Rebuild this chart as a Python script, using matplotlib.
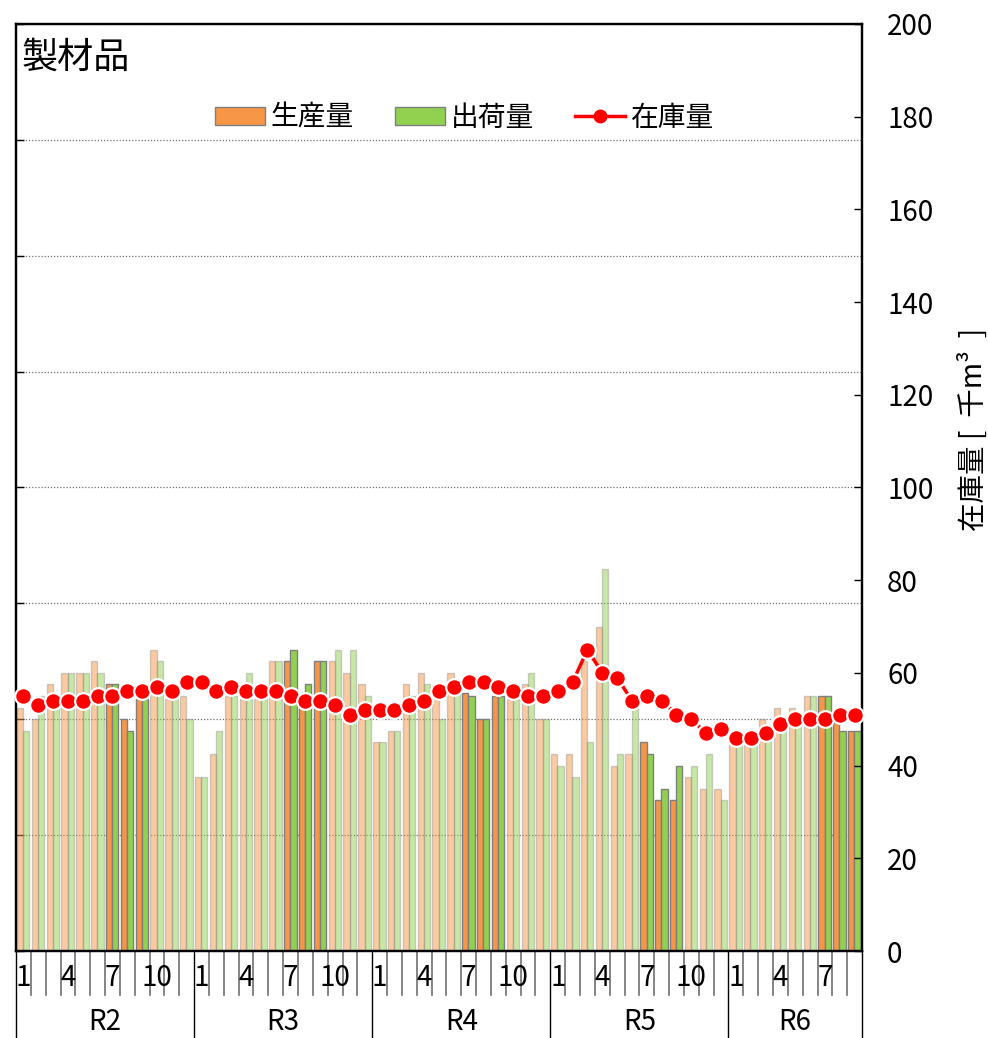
import matplotlib
matplotlib.use('Agg')
import matplotlib.pyplot as plt
import numpy as np
from matplotlib.patches import Patch
from matplotlib.lines import Line2D
from matplotlib.colors import to_rgba
import matplotlib.transforms as mtransforms

plt.rcParams['font.family'] = ['Noto Sans CJK JP', 'DejaVu Sans']

# ---------------- data ----------------
title = '製材品'
years = ['R2', 'R3', 'R4', 'R5', 'R6']
months_per_year = [12, 12, 12, 12, 9]
shown_month_labels = [1, 4, 7, 10]
highlight_months = [7, 8, 9]

production = [
    42, 40, 46, 48, 48, 50, 46, 40, 43.5, 52, 43.5, 44,      # R2
    30, 34, 44, 43.5, 43.5, 50, 50, 42, 50, 50, 48, 46,      # R3
    36, 38, 46, 48, 43.5, 48, 44.5, 40, 44, 43.5, 46, 40,    # R4
    34, 34, 50, 56, 32, 34, 36, 26, 26, 30, 28, 28,          # R5
    35.6, 35.6, 40, 42, 42, 44, 44, 39.3, 38,                # R6
]
shipment = [
    38, 44, 42, 48, 48, 48, 46, 38, 43.5, 50, 43.5, 40,      # R2
    30, 38, 44, 48, 43.5, 50, 52, 46, 50, 52, 52, 44,        # R3
    36, 38, 44, 46, 40, 45.6, 44, 40, 44, 43.5, 48, 40,      # R4
    32, 30, 36, 66, 34, 42, 34, 28, 32, 32, 34, 26,          # R5
    35.6, 35.6, 37, 38.8, 40, 44, 44, 38, 38,                # R6
]
stock = [
    55, 53, 54, 54, 54, 55, 55, 56, 56, 57, 56, 58,          # R2
    58, 56, 57, 56, 56, 56, 55, 54, 54, 53, 51, 52,          # R3
    52, 52, 53, 54, 56, 57, 58, 58, 57, 56, 55, 55,          # R4
    56, 58, 65, 60, 59, 54, 55, 54, 51, 50, 47, 48,          # R5
    46, 46, 47, 49, 50, 50, 50, 51, 51,                      # R6
]
series_labels = ['生産量', '出荷量', '在庫量']
y_label = '在庫量 [  千m³  ]'

# ---------------- derived ----------------
month_num = [m for n in months_per_year for m in range(1, n + 1)]
n = len(month_num)
x = np.arange(n)

c_prod = '#F79646'
c_ship = '#92D050'
c_edge = '#7F7F7F'
fade = 0.5

def colors(base):
    fc = [to_rgba(base, 1.0 if m in highlight_months else fade) for m in month_num]
    ec = [to_rgba(c_edge, 1.0 if m in highlight_months else 0.35) for m in month_num]
    return fc, ec

fig = plt.figure(figsize=(9.88, 10.38), dpi=100)
ax = fig.add_axes([0.0162, 0.0838, 0.8563, 0.8931])

w = 0.42
fc, ec = colors(c_prod)
ax.bar(x - w / 2 - 0.02, production, width=w, color=fc, edgecolor=ec, linewidth=1.0, zorder=2)
fc, ec = colors(c_ship)
ax.bar(x + w / 2 - 0.02, shipment, width=w, color=fc, edgecolor=ec, linewidth=1.0, zorder=2)

ax.set_xlim(-0.5, n - 0.5)
ax.set_ylim(0, 160)
ax.set_yticks(np.arange(0, 161, 20))
ax.tick_params(axis='y', direction='in', length=6, width=1, labelleft=False, left=True)
ax.set_xticks([])
ax.grid(axis='y', linestyle=(0, (1, 1.5)), color='#707070', linewidth=0.9)
ax.set_axisbelow(True)
for s in ax.spines.values():
    s.set_color('black')
    s.set_linewidth(1.6)

ax2 = ax.twinx()
ax2.set_ylim(0, 200)
ax2.set_yticks(np.arange(0, 201, 20))
ax2.tick_params(axis='y', direction='in', length=6, width=1, labelsize=20, pad=18)
ax2.plot(x, stock, color='#FF0000', linewidth=2.5, marker='o', markersize=12,
         markerfacecolor='#FF0000', markeredgecolor='white', markeredgewidth=1.6,
         zorder=5, clip_on=False)
for s in ax2.spines.values():
    s.set_color('black')
    s.set_linewidth(1.6)
ax2.set_ylabel(y_label, fontsize=20.5, rotation=90, ha='center', va='center')
ax2.yaxis.set_label_coords(1.132, 0.563)

# legend
handles = [
    Patch(facecolor=c_prod, edgecolor=c_edge),
    Patch(facecolor=c_ship, edgecolor=c_edge),
    Line2D([], [], color='#FF0000', linewidth=2.5, marker='o', markersize=9,
           markerfacecolor='#FF0000', markeredgecolor='#FF0000'),
]
ax2.legend(handles, series_labels, loc='center', bbox_to_anchor=(0.53, 0.899), ncol=3,
           frameon=False, fontsize=20, handlelength=1.8, handleheight=0.6,
           handletextpad=0.2, columnspacing=1.5)

ax.text(0.007, 0.964, title, transform=ax.transAxes, fontsize=26, ha='left', va='center')

# custom two-level x axis
trans = mtransforms.blended_transform_factory(ax.transData, ax.transAxes)
year_bounds = np.concatenate([[0], np.cumsum(months_per_year)]) - 0.5
for b in np.arange(-0.5, n, 1.0):
    if np.any(np.isclose(b, year_bounds)):
        ax.plot([b, b], [0, -0.1], transform=trans, color='black', lw=1.0, clip_on=False)
    else:
        ax.plot([b, b], [0, -0.047], transform=trans, color='#707070', lw=1.2, clip_on=False)
for i, m in enumerate(month_num):
    if m in shown_month_labels:
        ax.text(i, -0.0286, str(m), transform=trans, ha='center', va='center', fontsize=20)
for k, yl in enumerate(years):
    cx = (year_bounds[k] + year_bounds[k + 1]) / 2
    ax.text(cx, -0.077, yl, transform=trans, ha='center', va='center', fontsize=20)

fig.savefig('out.png', dpi=100)
